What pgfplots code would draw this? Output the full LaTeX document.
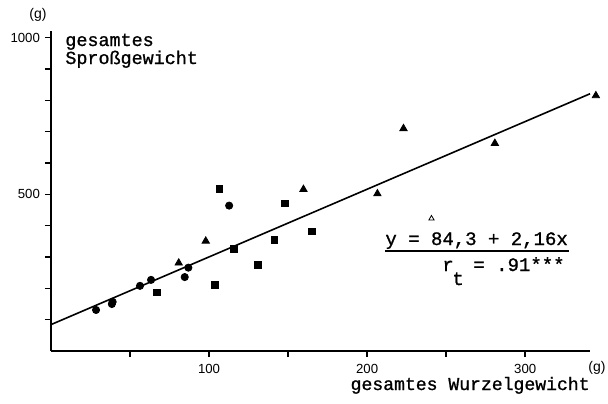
\documentclass[border=0pt]{standalone}
\usepackage{fontspec}
\setmainfont[FakeBold=1]{Liberation Mono}
\newfontfamily\ticksf{Liberation Sans}
\usepackage{pgfplots}
\pgfplotsset{compat=1.18}
\begin{document}
\begin{tikzpicture}
\begin{axis}[name=ax, anchor=south west, at={(0,0)},
  scale only axis, width=269.5pt, height=159.8pt,
  xmin=0, xmax=341, ymin=0, ymax=1020,
  axis lines=left, axis line style={-, line width=1pt},
  xtick={50,100,...,300}, xticklabels={,100,,200,,300},
  ytick={100,200,...,1000}, yticklabels={,,,,500,,,,,1000},
  tick align=outside, major tick length=3pt,
  tick style={line width=0.8pt, black},
  ticklabel style={font=\ticksf\fontsize{6.6}{7}\selectfont},
  yticklabel style={xshift=1pt},
  /pgf/number format/assume math mode=true,
  clip=false]
\addplot[line width=0.8pt, no marks] coordinates {(0,84.3) (341,820.9)};
\addplot[only marks, mark=*, mark size=1.8pt, black] coordinates {
 (28.5,131) (39,157) (38.5,150) (56.3,208) (63.3,227) (84.6,236) (86.9,266) (112.7,464)};
\addplot[only marks, mark=square*, mark size=1.7pt, black] coordinates {
 (67,187) (106.5,517) (148,471) (141.3,355) (115.8,326) (130.8,274) (103.8,211) (165,382)};
\addplot[only marks, mark=triangle*, mark size=2.1pt, black] coordinates {
 (80.8,281) (97.9,351) (159.7,516) (206.5,502) (223,710) (280.8,663) (344.7,815)};
\addplot[only marks, mark=triangle, mark size=1.5pt, black] coordinates {(240.7,423)};
\end{axis}
\node[font=\ticksf\fontsize{7}{8}\selectfont] at (-6.5pt,168pt) {(g)};
\node[font=\ticksf\fontsize{7}{8}\selectfont] at (273pt,-8.5pt) {(g)};
\node[anchor=base west, font=\fontsize{9.2}{10}\selectfont, inner sep=0pt] at (7pt,152.5pt) {gesamtes};
\node[anchor=base west, font=\fontsize{9.2}{10}\selectfont, inner sep=0pt] at (7pt,143.5pt) {Sproßgewicht};
\node[anchor=base east, font=\fontsize{9.05}{10}\selectfont, inner sep=0pt] at (269.5pt,-19.5pt) {gesamtes Wurzelgewicht};
\node[anchor=base west, font=\fontsize{9.5}{10}\selectfont, inner sep=0pt] at (167pt,53pt) {y = 84,3 + 2,16x};
\draw[line width=0.9pt] (167pt,50.2pt) -- (259pt,50.2pt);
\node[anchor=base west, font=\fontsize{9.5}{10}\selectfont, inner sep=0pt] at (195.5pt,40pt) {r};
\node[anchor=base west, font=\fontsize{9.5}{10}\selectfont, inner sep=0pt] at (200.5pt,33pt) {t};
\node[anchor=base west, font=\fontsize{9.5}{10}\selectfont, inner sep=0pt] at (211pt,40pt) {= .91***};
\pgfresetboundingbox
\useasboundingbox (-25.5pt,-26pt) rectangle (278.5pt,175.5pt);
\end{tikzpicture}
\end{document}
